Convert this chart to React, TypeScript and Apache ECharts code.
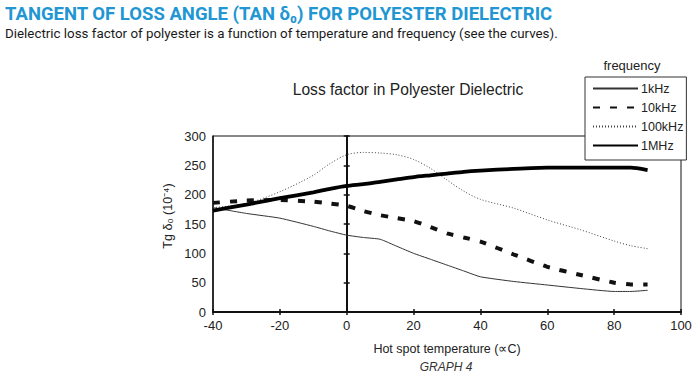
import React, { useEffect, useRef } from "react";
import * as echarts from "echarts";

const temps = [-40, -30, -20, -10, -5, 0, 5, 10, 15, 20, 25, 30, 35, 40, 50, 60, 70, 80, 85, 90];
const s1kHz = [178, 168, 160, 146, 138, 131, 127, 124, 112, 100, 90, 80, 70, 60, 52, 46, 40, 35, 35, 37];
const s10kHz = [186, 190, 191, 188, 185, 181, 172, 165, 160, 155, 145, 134, 127, 120, 98, 77, 63, 50, 47, 47];
const s100kHz = [178, 185, 205, 233, 253, 268, 272, 271, 268, 260, 245, 225, 206, 192, 177, 157, 140, 121, 113, 108];
const s1MHz = [173, 183, 194, 204, 210, 215, 218, 222, 226, 230, 233, 236, 239, 241, 244, 246, 246, 246, 246, 242];
const seriesNames = ["1kHz", "10kHz", "100kHz", "1MHz"];
const xTicks = { min: -40, max: 100, interval: 20 };
const yTicks = { min: 0, max: 300, interval: 50 };

const FONT = "Arial, 'Liberation Sans', Helvetica, sans-serif";
const HEADER_FONT = "bold 18px Roboto, 'Noto Sans', sans-serif";
const SUB_FONT = "13px Roboto, 'Noto Sans', sans-serif";
const HEADER_TEXT = "TANGENT OF LOSS ANGLE (TAN \u03b4\u2080) FOR POLYESTER DIELECTRIC";
const SUB_TEXT = "Dielectric loss factor of polyester is a function of temperature and frequency (see the curves).";

const pairs = (vals: number[]) => temps.map((t, i) => [t, vals[i]]);

function fitScale(text: string, font: string, target: number): number {
  try {
    const ctx = document.createElement("canvas").getContext("2d");
    if (!ctx) return 1;
    ctx.font = font;
    const w = ctx.measureText(text).width;
    return w > 0 ? target / w : 1;
  } catch (e) {
    return 1;
  }
}

export default function App() {
  const ref = useRef<HTMLDivElement>(null);
  useEffect(() => {
    if (!ref.current) return;
    const chart = echarts.init(ref.current, null, { renderer: "svg" });
    const headerScale = fitScale(HEADER_TEXT, HEADER_FONT, 548);
    const subScale = fitScale(SUB_TEXT, SUB_FONT, 553);
    const axisCommonX = {
      type: "value",
      min: xTicks.min,
      max: xTicks.max,
      interval: xTicks.interval,
      splitLine: { show: false },
    };
    const axisCommonY = {
      type: "value",
      min: yTicks.min,
      max: yTicks.max,
      interval: yTicks.interval,
      splitLine: { show: false },
    };
    chart.setOption({
      animation: false,
      backgroundColor: "#fff",
      textStyle: { fontFamily: FONT },
      grid: {
        left: 213,
        right: 19,
        top: 136,
        bottom: 66,
        show: true,
        borderColor: "#111",
        borderWidth: 1,
        backgroundColor: "transparent",
      },
      legend: {
        orient: "vertical",
        left: 585,
        top: 77,
        padding: [5, 3, 8, 7],
        itemWidth: 45,
        itemHeight: 14,
        itemGap: 6,
        backgroundColor: "#fff",
        borderColor: "#333",
        borderWidth: 1,
        borderRadius: 0,
        itemStyle: { color: "rgba(0,0,0,0)", borderColor: "rgba(0,0,0,0)", borderWidth: 0, opacity: 0 },
        textStyle: { fontSize: 12.5, color: "#222", fontFamily: FONT, padding: [0, 0, 0, -2] },
        data: seriesNames,
      },
      xAxis: [
        {
          ...axisCommonX,
          position: "bottom",
          axisLine: { onZero: false, lineStyle: { color: "#111", width: 2 } },
          axisTick: { show: true, inside: false, length: 3, lineStyle: { color: "#111", width: 1.5 } },
          axisLabel: { fontSize: 13, color: "#222", margin: 7, fontFamily: FONT },
          name: "Hot spot temperature (\u221dC)",
          nameLocation: "middle",
          nameGap: 30,
          nameTextStyle: { fontSize: 12.5, color: "#222", fontFamily: FONT },
        },
        {
          ...axisCommonX,
          position: "bottom",
          axisLine: { show: false, onZero: false },
          axisTick: { show: true, inside: true, length: 3, lineStyle: { color: "#111", width: 1.5 } },
          axisLabel: { show: false },
        },
      ],
      yAxis: [
        {
          ...axisCommonY,
          position: "left",
          axisLine: { show: true, onZero: false, lineStyle: { color: "#111", width: 1.5 } },
          axisTick: { show: false },
          axisLabel: { fontSize: 13, color: "#222", margin: 7, fontFamily: FONT },
        },
        {
          ...axisCommonY,
          position: "left",
          axisLine: { show: true, onZero: true, lineStyle: { color: "#111", width: 2 } },
          axisTick: { show: true, inside: false, length: 3, lineStyle: { color: "#111", width: 1.5 } },
          axisLabel: { show: false },
        },
        {
          ...axisCommonY,
          position: "left",
          axisLine: { show: false, onZero: true },
          axisTick: { show: true, inside: true, length: 3, lineStyle: { color: "#111", width: 1.5 } },
          axisLabel: { show: false },
        },
      ],
      series: [
        {
          name: seriesNames[0],
          type: "line",
          data: pairs(s1kHz),
          symbol: "none",
          smooth: 0.15,
          z: 3,
          lineStyle: { color: "#333", width: 1, type: "solid" },
          itemStyle: { color: "#333" },
        },
        {
          name: seriesNames[1],
          type: "line",
          data: pairs(s10kHz),
          symbol: "none",
          smooth: 0.15,
          z: 3,
          lineStyle: { color: "#111", width: 4, type: [7, 10] },
          itemStyle: { color: "#111" },
        },
        {
          name: seriesNames[2],
          type: "line",
          data: pairs(s100kHz),
          symbol: "none",
          smooth: 0.3,
          z: 3,
          lineStyle: { color: "#444", width: 1, type: [1, 2] },
          itemStyle: { color: "#444" },
        },
        {
          name: seriesNames[3],
          type: "line",
          data: pairs(s1MHz),
          symbol: "none",
          smooth: 0.2,
          z: 3,
          lineStyle: { color: "#000", width: 3.8, type: "solid" },
          itemStyle: { color: "#000" },
        },
      ],
      graphic: [
        {
          type: "text",
          x: 5,
          y: 14,
          scaleX: headerScale,
          style: {
            text: HEADER_TEXT,
            fill: "#2196d3",
            font: HEADER_FONT,
            align: "left",
            verticalAlign: "middle",
          },
        },
        {
          type: "text",
          x: 5,
          y: 34,
          scaleX: subScale,
          style: {
            text: SUB_TEXT,
            fill: "#1a1a1a",
            font: SUB_FONT,
            align: "left",
            verticalAlign: "middle",
          },
        },
        {
          type: "text",
          x: 408,
          y: 89,
          style: {
            text: "Loss factor in Polyester Dielectric",
            fill: "#222",
            font: `15.6px ${FONT}`,
            align: "center",
            verticalAlign: "middle",
          },
        },
        {
          type: "text",
          x: 168,
          y: 216,
          rotation: Math.PI / 2,
          style: {
            text: "Tg \u03b4\u2080 (10\u207b\u2074)",
            fill: "#222",
            font: `12.5px ${FONT}`,
            align: "center",
            verticalAlign: "middle",
          },
        },
        {
          type: "text",
          x: 632,
          y: 65,
          style: {
            text: "frequency",
            fill: "#222",
            font: `13px ${FONT}`,
            align: "center",
            verticalAlign: "middle",
          },
        },
        {
          type: "text",
          x: 446,
          y: 367,
          style: {
            text: "GRAPH 4",
            fill: "#333",
            font: `italic 12px ${FONT}`,
            align: "center",
            verticalAlign: "middle",
          },
        },
      ],
    });
    return () => chart.dispose();
  }, []);
  return (
    <div
      ref={ref}
      style={{ position: "fixed", left: 0, top: 0, width: 700, height: 378, background: "#fff" }}
    />
  );
}
